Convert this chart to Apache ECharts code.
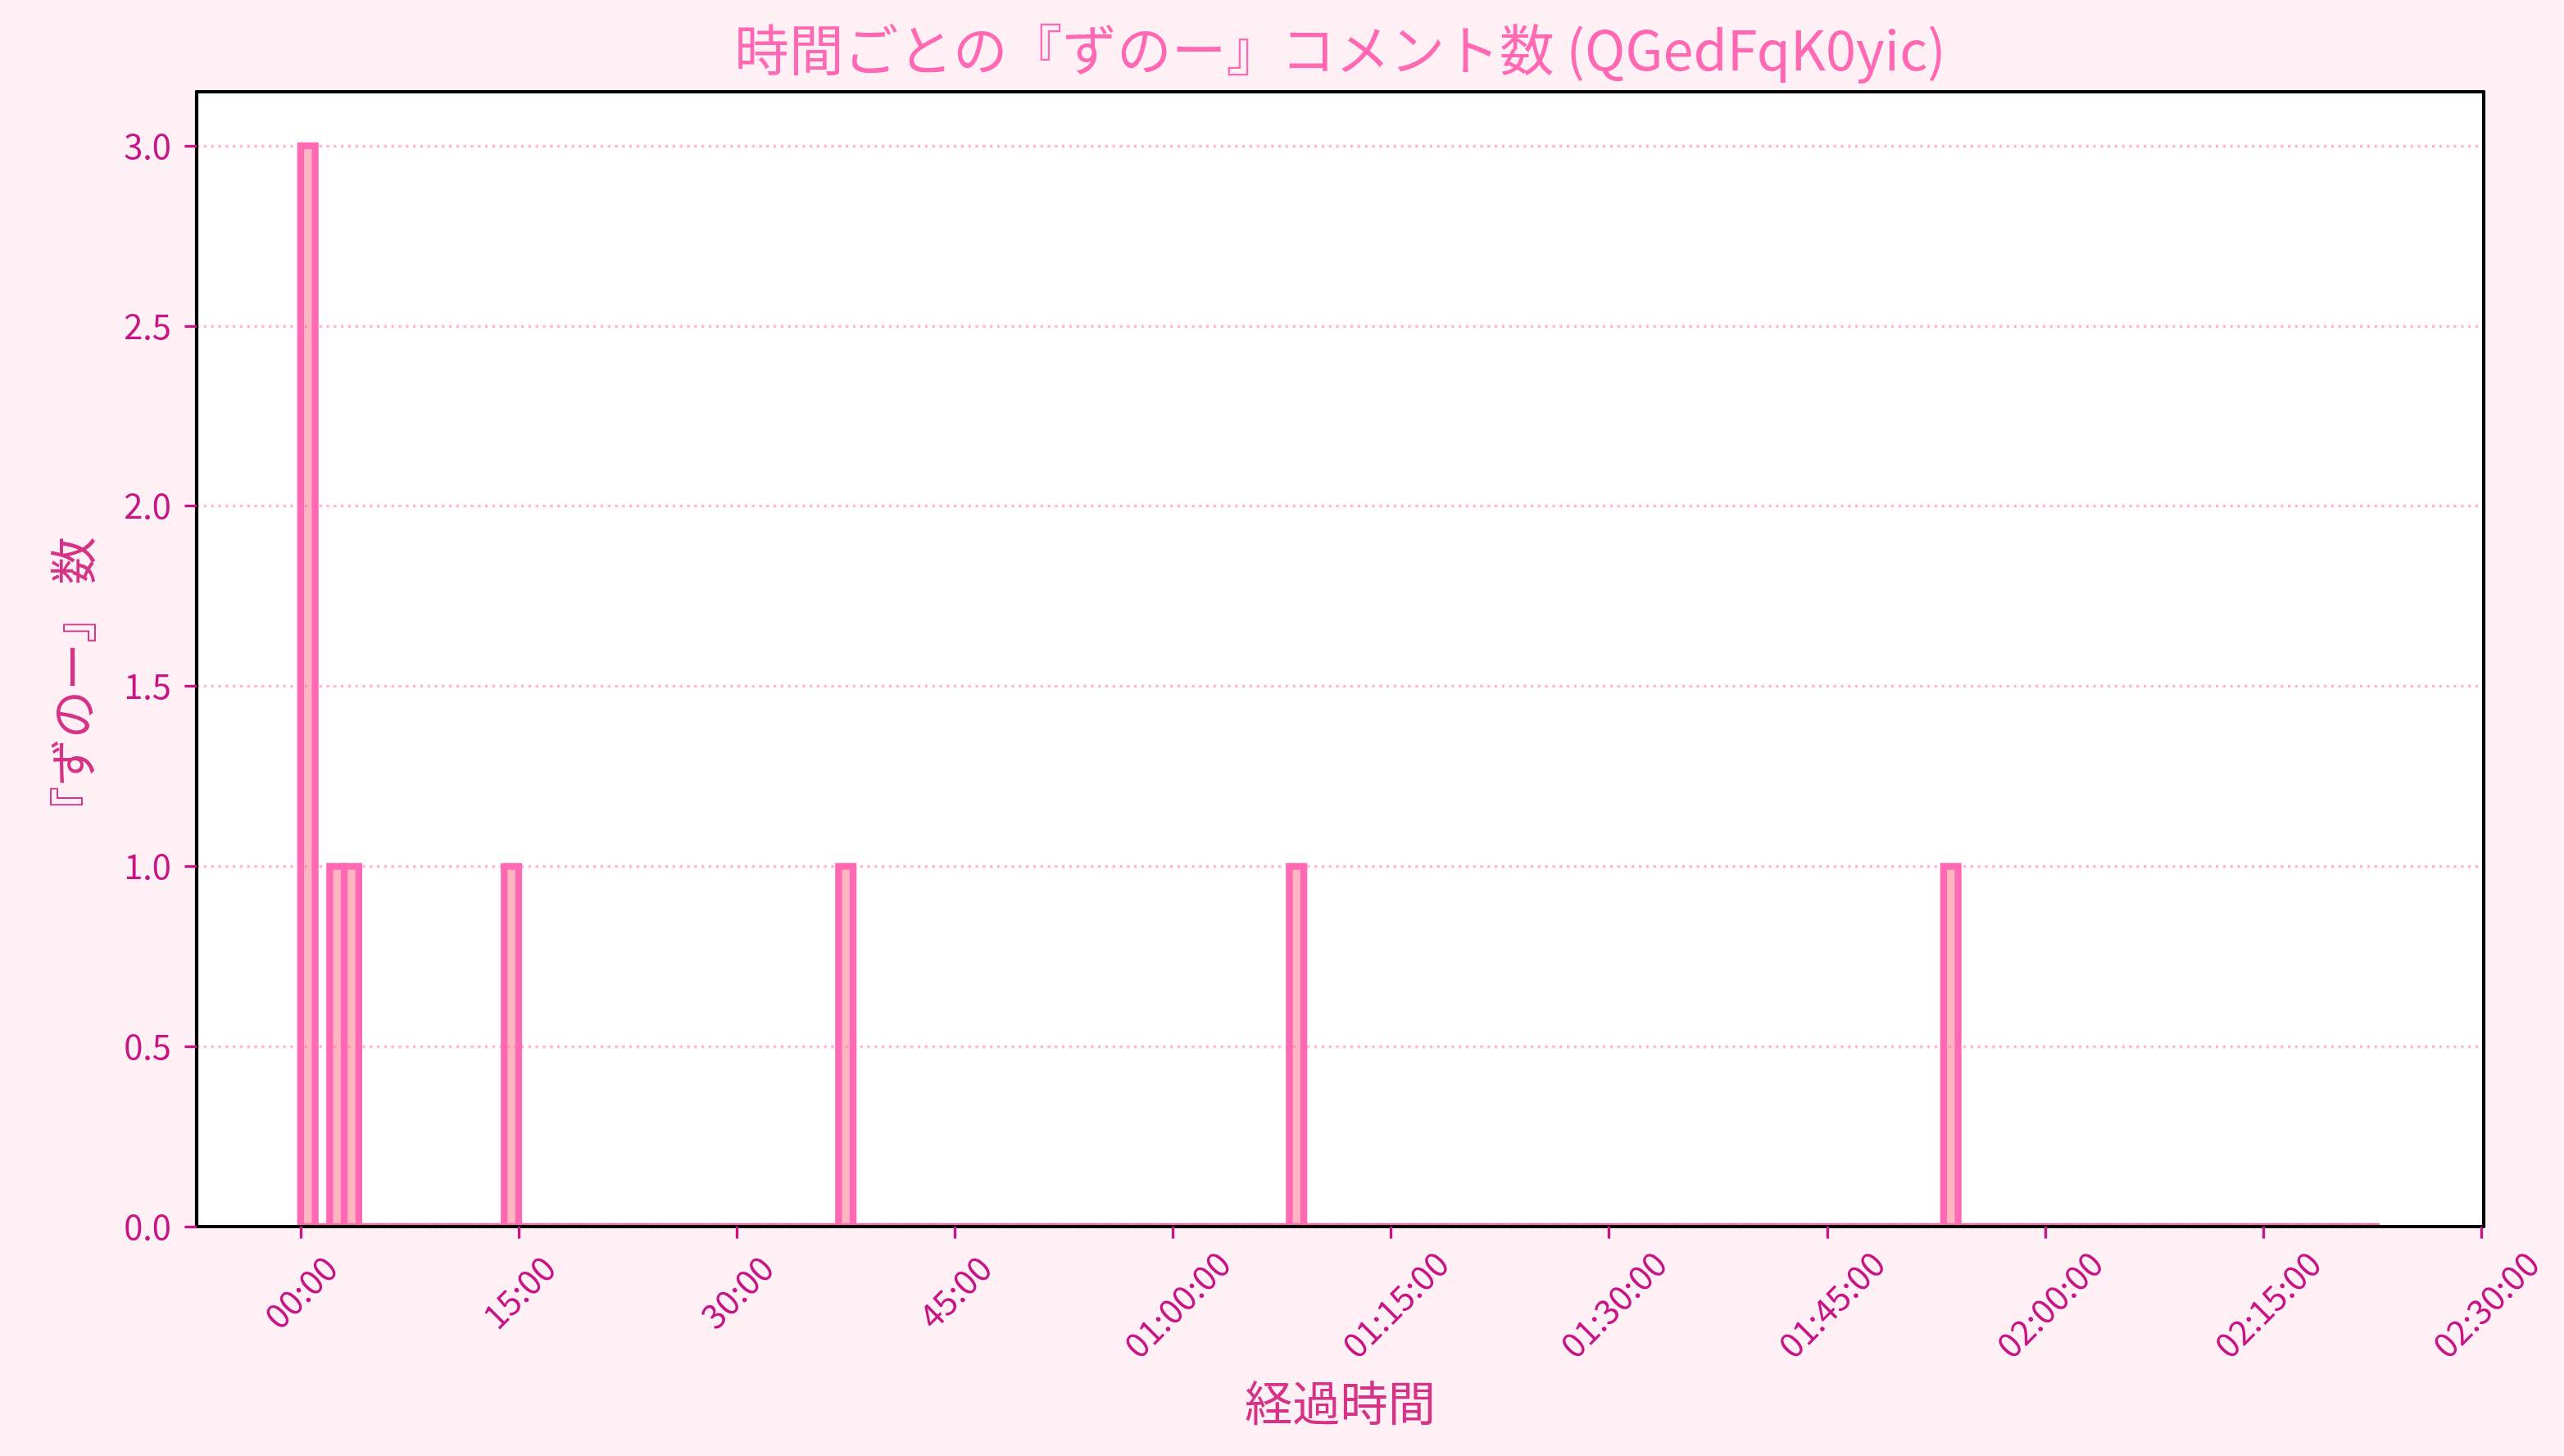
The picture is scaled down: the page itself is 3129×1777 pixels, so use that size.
<!DOCTYPE html>
<html>
<head>
<meta charset="utf-8">
<script src="https://cdn.jsdelivr.net/npm/echarts@6/dist/echarts.min.js"></script>
<style>html,body{margin:0;padding:0;background:#FFF0F5;}#chart{width:3129px;height:1777px;}</style>
</head>
<body>
<div id="chart"></div>
<script>
// ---- data (1-minute bins, elapsed minutes) ----
const binStartMin = 0;
const binWidthMin = 1;
const binCounts = [
  3,0,1,1,0,0,0,0,0,0,
  0,0,0,0,1,0,0,0,0,0,
  0,0,0,0,0,0,0,0,0,0,
  0,0,0,0,0,0,0,1,0,0,
  0,0,0,0,0,0,0,0,0,0,
  0,0,0,0,0,0,0,0,0,0,
  0,0,0,0,0,0,0,0,1,0,
  0,0,0,0,0,0,0,0,0,0,
  0,0,0,0,0,0,0,0,0,0,
  0,0,0,0,0,0,0,0,0,0,
  0,0,0,0,0,0,0,0,0,0,
  0,0,0,1,0,0,0,0,0,0,
  0,0,0,0,0,0,0,0,0,0,
  0,0,0,0,0,0,0,0,0,0,
  0,0,0
];
const xTickMinutes = [0, 15, 30, 45, 60, 75, 90, 105, 120, 135, 150];
const yTicks = [0, 0.5, 1.0, 1.5, 2.0, 2.5, 3.0];
const titleText = '時間ごとの『ずのー』コメント数 (QGedFqK0yic)';
const xName = '経過時間';
const yName = '『ずのー』 数';

// histogram table built from the bins
const histData = binCounts.map((c, i) => [binStartMin + i * binWidthMin, binStartMin + (i + 1) * binWidthMin, c]);
const spanMin = binCounts.length * binWidthMin;
const xMin = binStartMin - spanMin * 0.05;
const xMax = binStartMin + spanMin * 1.05;
const yMax = Math.max(...binCounts) * 1.05;

function pad(n) { return String(n).padStart(2, '0'); }
function fmtTime(m) {
  const h = Math.floor(m / 60), mm = Math.round(m % 60);
  return h > 0 ? pad(h) + ':' + pad(mm) + ':00' : pad(mm) + ':00';
}
const shortTicks = xTickMinutes.filter(v => v < 60);
const longTicks = xTickMinutes.filter(v => v >= 60);

const FONT = 'Noto Sans CJK JP';
const TICKC = '#C71585';
const chart = echarts.init(document.getElementById('chart'), null, {renderer: 'canvas'});
const labelBase = {rotate: 45, align: 'center', verticalAlign: 'middle', color: TICKC, fontSize: 41.7, fontFamily: FONT, formatter: fmtTime};

chart.setOption({
  backgroundColor: '#FFF0F5',
  animation: false,
  title: {
    text: titleText, left: 1635.5, textAlign: 'center', top: 27, padding: 0,
    textStyle: {color: '#FF69B4', fontSize: 66.7, fontWeight: 'normal', fontFamily: FONT}
  },
  grid: {left: 240, right: 98, top: 112, bottom: 280, show: true, backgroundColor: '#FFFFFF', borderWidth: 0, containLabel: false, outerBoundsMode: 'none'},
  xAxis: [
    {
      type: 'value', position: 'bottom', min: xMin, max: xMax, z: 3,
      name: xName, nameLocation: 'middle', nameGap: 186,
      nameTextStyle: {color: '#D63387', fontSize: 58.3, fontFamily: FONT},
      axisLine: {show: true, onZero: false, lineStyle: {color: '#000', width: 4.17}},
      axisTick: {show: true, length: 14.6, lineStyle: {color: TICKC, width: 3.3}, customValues: xTickMinutes},
      axisLabel: Object.assign({}, labelBase, {margin: 80, customValues: shortTicks}),
      splitLine: {show: false}
    },
    {
      type: 'value', position: 'top', min: xMin, max: xMax, z: 4,
      axisLine: {show: true, onZero: false, lineStyle: {color: '#000', width: 4.17}},
      axisTick: {show: false}, axisLabel: {show: false}, splitLine: {show: false}
    },
    {
      type: 'value', position: 'bottom', offset: 0, min: xMin, max: xMax, z: 3,
      axisLine: {show: false}, axisTick: {show: false},
      axisLabel: Object.assign({}, labelBase, {margin: 100, customValues: longTicks, padding: [0, 0, 0, 14]}),
      splitLine: {show: false}
    }
  ],
  yAxis: [
    {
      type: 'value', position: 'left', min: 0, max: yMax, interval: 0.5, z: 3,
      name: yName, nameLocation: 'middle', nameGap: 122, nameRotate: 90,
      nameTextStyle: {color: '#D63387', fontSize: 58.3, fontFamily: FONT, padding: [0, 64, 0, 0]},
      axisLine: {show: true, onZero: false, lineStyle: {color: '#000', width: 4.17}},
      axisTick: {show: true, length: 14.6, lineStyle: {color: TICKC, width: 3.3}, customValues: yTicks},
      axisLabel: {color: TICKC, fontSize: 41.7, fontFamily: FONT, margin: 31, customValues: yTicks, formatter: v => v.toFixed(1)},
      splitLine: {show: true, lineStyle: {color: 'rgba(255,105,180,0.5)', width: 3.3, type: [3.3, 5.5]}}
    },
    {
      type: 'value', position: 'right', min: 0, max: yMax, z: 4,
      axisLine: {show: true, onZero: false, lineStyle: {color: '#000', width: 4.17}},
      axisTick: {show: false}, axisLabel: {show: false}, splitLine: {show: false}
    }
  ],
  series: [{
    type: 'custom',
    xAxisIndex: 0, yAxisIndex: 0,
    clip: true,
    data: histData,
    encode: {x: [0, 1], y: 2},
    renderItem: function (params, api) {
      const p0 = api.coord([api.value(0), api.value(2)]);
      const p1 = api.coord([api.value(1), 0]);
      return {
        type: 'rect',
        shape: {x: p0[0], y: p0[1], width: p1[0] - p0[0], height: p1[1] - p0[1]},
        style: {fill: '#FFB6C1', stroke: '#FF69B4', lineWidth: 8.33, lineJoin: 'miter'}
      };
    }
  }]
});
</script>
</body>
</html>
